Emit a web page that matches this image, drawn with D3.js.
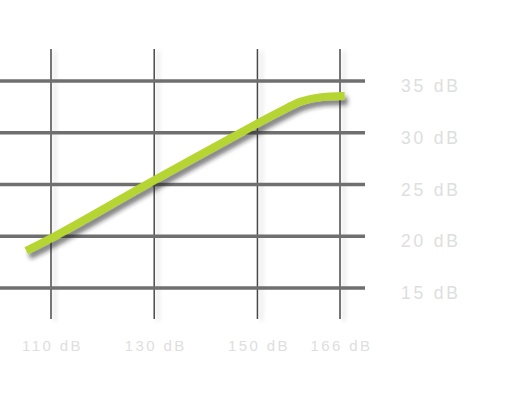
<!DOCTYPE html>
<html>
<head>
<meta charset="utf-8">
<script src="https://cdn.jsdelivr.net/npm/d3@7"></script>
<style>
  body { margin: 0; background: #fff; }
  text { font-family: "Liberation Sans", Arial, sans-serif; fill: #dedede; }
</style>
</head>
<body>
<div id="chart"></div>
<script>
// tick values
const xTicks = [110, 130, 150, 166];
const yTicks = [15, 20, 25, 30, 35];

// the green curve
const curveX = [105.2, 110, 130, 150, 154.4, 158.3, 162, 166.9];
const curveY = [18.6, 19.8, 25.4, 30.9, 32.05, 33.0, 33.42, 33.55];

const width = 527, height = 406;

const svg = d3.select('#chart').append('svg')
    .attr('width', width)
    .attr('height', height);

// shadows - userSpaceOnUse so thin vertical lines don't vanish
const defs = svg.append('defs');
defs.append('filter').attr('id', 'vshadow')
    .attr('filterUnits', 'userSpaceOnUse')
    .attr('x', 0).attr('y', 0).attr('width', width).attr('height', height)
    .append('feDropShadow')
    .attr('dx', 4).attr('dy', 2)
    .attr('stdDeviation', 2)
    .attr('flood-color', '#000')
    .attr('flood-opacity', 0.18);
defs.append('filter').attr('id', 'lshadow')
    .attr('filterUnits', 'userSpaceOnUse')
    .attr('x', 0).attr('y', 0).attr('width', width).attr('height', height)
    .append('feDropShadow')
    .attr('dx', 3).attr('dy', 5)
    .attr('stdDeviation', 2)
    .attr('flood-color', '#222')
    .attr('flood-opacity', 0.55);

const x = d3.scaleLinear().domain([110, 166]).range([51, 340]);
const y = d3.scaleLinear().domain([15, 35]).range([288, 81]);

// vertical lines
svg.selectAll('.vline').data(xTicks).enter().append('line')
    .attr('class', 'vline')
    .attr('x1', d => x(d)).attr('x2', d => x(d))
    .attr('y1', 49).attr('y2', 319)
    .attr('stroke', '#4a4a4a')
    .attr('stroke-width', 1.5)
    .attr('filter', 'url(#vshadow)');

// horizontal lines
svg.selectAll('.hline').data(yTicks).enter().append('line')
    .attr('class', 'hline')
    .attr('x1', 0).attr('x2', 365)
    .attr('y1', d => y(d)).attr('y2', d => y(d))
    .attr('stroke', '#6f6f6f')
    .attr('stroke-width', 3.5);

// right labels
svg.selectAll('.ylab').data(yTicks).enter().append('text')
    .attr('class', 'ylab')
    .attr('x', 401)
    .attr('y', d => y(d) + 11)
    .style('font-size', '17.5px')
    .style('letter-spacing', '2.8px')
    .text(d => d + ' dB');

// bottom labels
svg.selectAll('.xlab').data(xTicks).enter().append('text')
    .attr('class', 'xlab')
    .attr('x', d => x(d) + 1.5)
    .attr('y', 351)
    .attr('text-anchor', 'middle')
    .style('font-size', '15px')
    .style('letter-spacing', '2.4px')
    .text(d => d + ' dB');

// green curve
const pts = curveX.map((v, i) => [v, curveY[i]]);
const line = d3.line()
    .x(d => x(d[0]))
    .y(d => y(d[1]))
    .curve(d3.curveCatmullRom.alpha(0.5));

svg.append('path')
    .datum(pts)
    .attr('d', line)
    .attr('fill', 'none')
    .attr('stroke', '#b6d431')
    .attr('stroke-width', 8)
    .attr('filter', 'url(#lshadow)');
</script>
</body>
</html>
